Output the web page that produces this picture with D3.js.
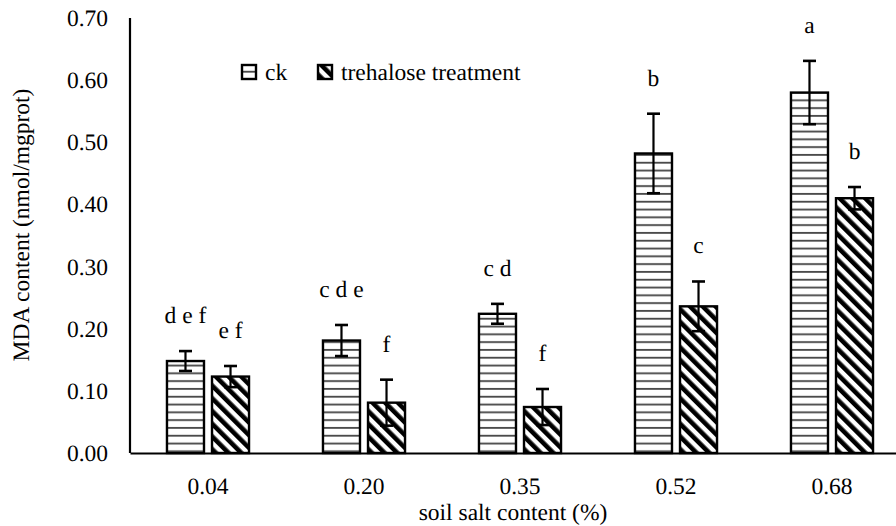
<!DOCTYPE html>
<html>
<head>
<meta charset="utf-8">
<script src="https://cdn.jsdelivr.net/npm/d3@7/dist/d3.min.js"></script>
<style>
  html, body { margin: 0; padding: 0; background: #fff; }
  svg { display: block; }
  svg text { text-rendering: geometricPrecision; }
</style>
</head>
<body>
<svg id="chart" width="896" height="526"></svg>
<script>
// Soil salt levels (x categories)
const categories = ["0.04", "0.20", "0.35", "0.52", "0.68"];
// Series names
const seriesNames = ["ck", "trehalose treatment"];
// MDA content, nmol/mgprot
const ckValues = [0.148, 0.181, 0.224, 0.482, 0.580];
const ckErrors = [0.016, 0.025, 0.016, 0.064, 0.051];
const trehaloseValues = [0.123, 0.081, 0.074, 0.236, 0.410];
const trehaloseErrors = [0.017, 0.037, 0.029, 0.040, 0.018];
// Significance letters
const ckLetters = ["d e f", "c d e", "c d", "b", "a"];
const trehaloseLetters = ["e f", "f", "f", "c", "b"];
// Y tick values
const yTicks = [0, 0.1, 0.2, 0.3, 0.4, 0.5, 0.6, 0.7];

const svg = d3.select("#chart");
const FONT = "23.5px";
const FAMILY = "'Liberation Serif', 'Times New Roman', serif";

const plotLeft = 130, plotRight = 910, plotTop = 18, plotBottom = 453;

const x = d3.scaleBand().domain(categories).range([plotLeft, plotRight])
  .paddingInner(0.474).paddingOuter(0.237);
const xs = d3.scaleBand().domain(seriesNames).range([0, x.bandwidth()])
  .paddingInner(0.178).paddingOuter(0);
const y = d3.scaleLinear().domain([0, 0.7]).range([plotBottom, plotTop]);

// Fill patterns
const defs = svg.append("defs");
const ph = defs.append("pattern").attr("id", "hlines")
  .attr("patternUnits", "userSpaceOnUse").attr("width", 8).attr("height", 7.8);
ph.append("rect").attr("width", 8).attr("height", 7.8).attr("fill", "#fff");
ph.append("rect").attr("y", 5.8).attr("width", 8).attr("height", 1.8).attr("fill", "#444");

const pd = defs.append("pattern").attr("id", "dlines")
  .attr("patternUnits", "userSpaceOnUse").attr("width", 9).attr("height", 9)
  .attr("patternTransform", "rotate(-45)");
pd.append("rect").attr("width", 9).attr("height", 9).attr("fill", "#fff");
pd.append("rect").attr("width", 4.6).attr("height", 9).attr("fill", "#000");

const fills = { "ck": "url(#hlines)", "trehalose treatment": "url(#dlines)" };

const rows = categories.map((c, i) => ({
  cat: c,
  items: [
    { s: "ck", v: ckValues[i], e: ckErrors[i], l: ckLetters[i] },
    { s: "trehalose treatment", v: trehaloseValues[i], e: trehaloseErrors[i], l: trehaloseLetters[i] }
  ]
}));

// Y tick labels
const yAxis = d3.axisLeft(y).tickValues(yTicks).tickFormat(d3.format(".2f")).tickSize(0).tickPadding(22);
const gy = svg.append("g").attr("transform", `translate(${plotLeft},0)`).call(yAxis);
gy.select(".domain").remove();

// Bars
const groups = svg.append("g").selectAll("g").data(rows).join("g")
  .attr("transform", d => `translate(${x(d.cat)},0)`);

groups.selectAll("rect").data(d => d.items).join("rect")
  .attr("x", d => xs(d.s))
  .attr("y", d => y(d.v))
  .attr("width", xs.bandwidth())
  .attr("height", d => y(0) - y(d.v))
  .attr("fill", d => fills[d.s])
  .attr("stroke", "#000").attr("stroke-width", 2.4);

// Error bars
const eb = groups.selectAll("g.err").data(d => d.items).join("g").attr("class", "err")
  .attr("transform", d => `translate(${xs(d.s) + xs.bandwidth() / 2},0)`);
eb.append("line").attr("x1", 0).attr("x2", 0)
  .attr("y1", d => y(d.v + d.e)).attr("y2", d => y(d.v - d.e))
  .attr("stroke", "#000").attr("stroke-width", 2.2);
eb.selectAll("line.cap").data(d => [d.v + d.e, d.v - d.e]).join("line").attr("class", "cap")
  .attr("x1", -6.5).attr("x2", 6.5).attr("y1", d => y(d)).attr("y2", d => y(d))
  .attr("stroke", "#000").attr("stroke-width", 2.6);

// Significance letters
groups.selectAll("text.sig").data(d => d.items).join("text").attr("class", "sig")
  .attr("x", d => xs(d.s) + xs.bandwidth() / 2)
  .attr("y", d => y(d.v + d.e) - 28)
  .attr("text-anchor", "middle")
  .text(d => d.l);

// Axis lines
svg.append("line").attr("x1", plotLeft).attr("x2", plotLeft).attr("y1", plotTop).attr("y2", plotBottom)
  .attr("stroke", "#000").attr("stroke-width", 2.2);
const xAxis = d3.axisBottom(x).tickSize(0).tickPadding(24);
const gx = svg.append("g").attr("transform", `translate(0,${plotBottom})`).call(xAxis);
gx.select(".domain").attr("stroke", "#000").attr("stroke-width", 2.2);

// Axis titles
svg.append("text").attr("x", 513).attr("y", 520).attr("text-anchor", "middle")
  .text("soil salt content (%)");
svg.append("text").attr("transform", "translate(29,225) rotate(-90)").attr("text-anchor", "middle")
  .text("MDA content (nmol/mgprot)");

// Legend
const legendX = [242, 318];
const legend = svg.append("g").selectAll("g").data(seriesNames).join("g")
  .attr("transform", (d, i) => `translate(${legendX[i]},65)`);
legend.append("rect").attr("width", 14).attr("height", 14)
  .attr("fill", d => fills[d]).attr("stroke", "#000").attr("stroke-width", 2.4);
legend.append("text").attr("x", 23).attr("y", 15).text(d => d);

// One typeface for every label
svg.selectAll("g").attr("font-family", null).attr("font-size", null);
svg.selectAll("text")
  .style("font-family", FAMILY)
  .style("font-size", FONT)
  .attr("fill", "#000");
</script>
</body>
</html>
